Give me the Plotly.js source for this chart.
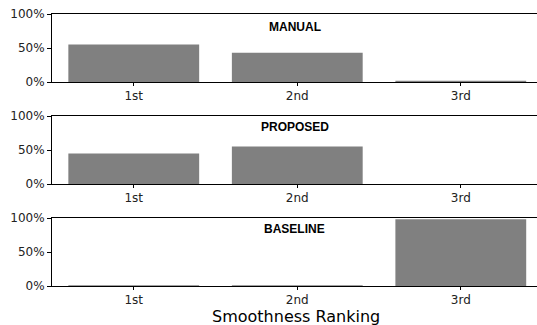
<!DOCTYPE html>
<html><head><meta charset="utf-8">
<script src="https://cdn.plot.ly/plotly-3.0.1.min.js"></script>
<style>html,body{margin:0;padding:0;background:#fff}</style>
</head><body>
<div id="chart" style="width:537px;height:325px"></div>
<script>
const categories = ["1st", "2nd", "3rd"];
const manual = [55, 43, 2];
const proposed = [45, 55, 0];
const baseline = [1, 1, 98];
const panelTitles = ["MANUAL", "PROPOSED", "BASELINE"];
const yTickVals = [0, 50, 100];
const yTickText = ["0%", "50%", "100%"];
const xTitle = "Smoothness Ranking";

const series = [manual, proposed, baseline];
const domains = [[0.75, 1], [0.375, 0.625], [0, 0.25]];
const titleY = [0.81, 0.845, 0.84];
const font = {family: "DejaVu Sans", size: 12, color: "#222"};

const data = series.map((vals, i) => ({
  type: "bar", x: categories, y: vals,
  xaxis: i === 0 ? "x" : "x" + (i + 1),
  yaxis: i === 0 ? "y" : "y" + (i + 1),
  marker: {color: "#808080"}, width: 0.8, hoverinfo: "none"
}));

const layout = {
  width: 537, height: 325,
  margin: {l: 52, r: 0, t: 14, b: 39},
  paper_bgcolor: "#fff", plot_bgcolor: "#fff",
  showlegend: false, font: font,
  annotations: []
};

for (let i = 0; i < 3; i++) {
  const xs = i === 0 ? "xaxis" : "xaxis" + (i + 1);
  const ys = i === 0 ? "yaxis" : "yaxis" + (i + 1);
  const ya = i === 0 ? "y" : "y" + (i + 1);
  layout[xs] = {
    domain: [0, 1], anchor: ya, range: [-0.5, 2.466],
    showline: true, linecolor: "#000", linewidth: 1, mirror: true,
    ticks: "outside", ticklen: 3, tickcolor: "#000", tickwidth: 1,
    showgrid: false, zeroline: false, tickfont: font, fixedrange: true
  };
  layout[ys] = {
    domain: domains[i], anchor: i === 0 ? "x" : "x" + (i + 1), range: [0, 100],
    tickvals: yTickVals, ticktext: yTickText,
    showline: true, linecolor: "#000", linewidth: 1,
    ticks: "outside", ticklen: 4, tickcolor: "#000", tickwidth: 1,
    showgrid: false, zeroline: false, tickfont: font, fixedrange: true
  };
  layout.annotations.push({
    text: "<b>" + panelTitles[i] + "</b>",
    xref: (i === 0 ? "x" : "x" + (i + 1)) + " domain",
    yref: ya + " domain",
    x: 0.5, y: titleY[i], xanchor: "center", yanchor: "middle", showarrow: false,
    font: {family: "Liberation Sans", size: 12, color: "#000"}
  });
}
layout.annotations.push({
  text: xTitle, xref: "x3 domain", yref: "paper",
  x: 0.503, y: -(316 - 286) / 272, xanchor: "center", yanchor: "middle", showarrow: false,
  font: {family: "DejaVu Sans", size: 16, color: "#000"}
});

Plotly.newPlot("chart", data, layout, {displayModeBar: false, staticPlot: true});
</script>
</body></html>
